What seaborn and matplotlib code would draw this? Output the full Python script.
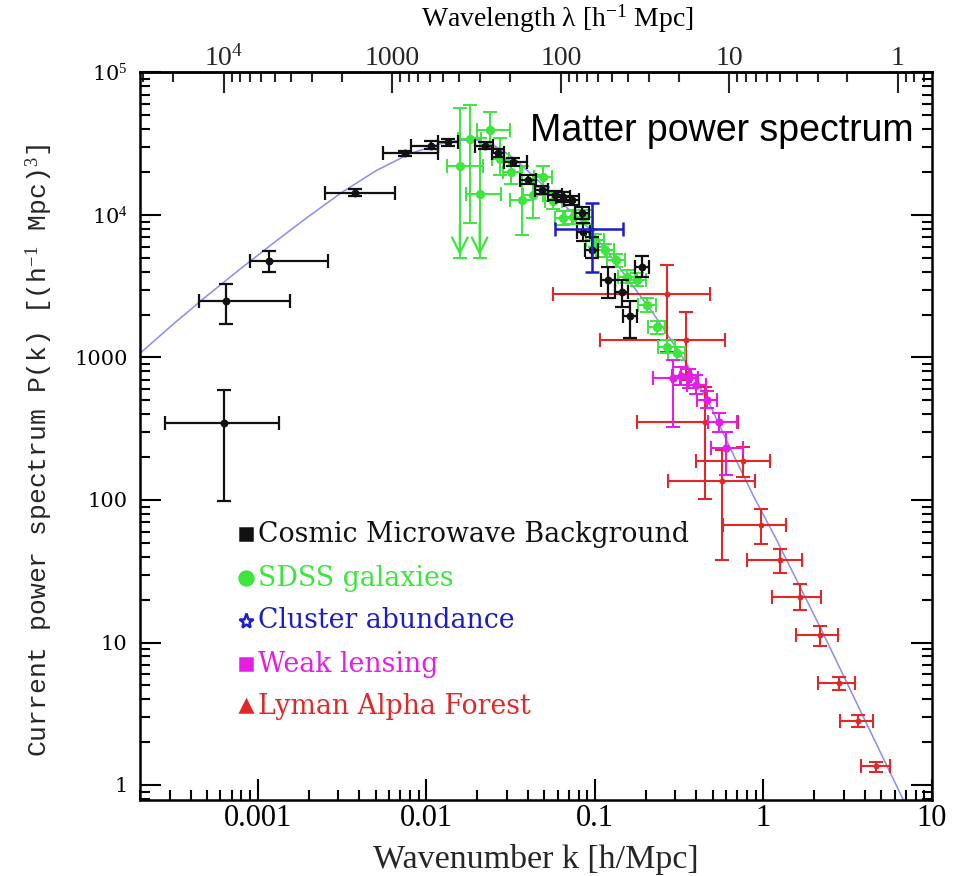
import numpy as np
import pandas as pd
import matplotlib
matplotlib.use("Agg")
import matplotlib.pyplot as plt
from matplotlib.lines import Line2D
import seaborn as sns
from matplotlib.ticker import FixedLocator, FixedFormatter, LogLocator, NullFormatter

# ---------------- data ----------------
theory_k = [2.0e-4, 3.16e-4, 5.01e-4, 7.94e-4, 1.26e-3, 2.0e-3, 3.16e-3, 5.01e-3, 7.94e-3,
            0.0126, 0.0158, 0.0200, 0.0251, 0.0316, 0.0376, 0.0493, 0.0933, 0.1406,
            0.222, 0.350, 0.471, 0.632, 0.871, 1.197, 2.163, 6.61, 7.0]
theory_P = [1070, 1720, 2720, 4220, 6460, 9770, 14450, 20400, 26900,
            32000, 33500, 33500, 30900, 26000, 21800, 16200, 7940, 4230,
            2040, 910, 490, 234, 107, 52.5, 12.9, 0.83, 0.72]

cmb_k = [6.3e-4, 6.45e-4, 1.16e-3, 3.77e-3, 7.45e-3, 0.0106, 0.0135, 0.0222, 0.0267, 0.0327,
         0.0402, 0.0483, 0.058, 0.0649, 0.0728, 0.0834, 0.0853, 0.0955, 0.120, 0.144, 0.161, 0.189]
cmb_P = [347, 2500, 4770, 14350, 27100, 30500, 32300, 30600, 27100, 23500,
         17600, 15000, 13800, 13400, 12700, 10300, 7640, 5680, 3500, 2890, 1950, 4340]
cmb_klo = [2.8e-4, 4.5e-4, 8.97e-4, 2.5e-3, 5.5e-3, 8.1e-3, 0.0118, 0.0195, 0.0245, 0.029,
           0.036, 0.044, 0.053, 0.059, 0.066, 0.076, 0.078, 0.087, 0.109, 0.131, 0.147, 0.172]
cmb_khi = [1.33e-3, 1.55e-3, 2.6e-3, 6.53e-3, 0.0117, 0.0118, 0.0155, 0.025, 0.029, 0.0398,
           0.045, 0.053, 0.064, 0.071, 0.080, 0.092, 0.094, 0.105, 0.132, 0.158, 0.177, 0.208]
cmb_Plo = [98.5, 1710, 4000, 13600, 26000, 29000, 30500, 29000, 25500, 22000,
           16500, 14000, 12800, 12400, 11800, 9300, 6600, 4970, 2600, 2270, 1370, 3650]
cmb_Phi = [590, 3280, 5620, 15100, 28200, 33000, 34000, 32500, 29000, 25000,
           19000, 16000, 14800, 14400, 13700, 11400, 8800, 7050, 4340, 3500, 2510, 5150]

sdss_k = [0.0158, 0.0181, 0.0207, 0.0240, 0.0275, 0.0320, 0.0367, 0.0427, 0.0493, 0.0566, 0.0649,
          0.0745, 0.0872, 0.100, 0.115, 0.133, 0.154, 0.178, 0.204, 0.232, 0.267, 0.306]
sdss_P = [22100, 34000, 14000, 39500, 24700, 19900, 12700, 13800, 18600, 12500, 9490,
          9730, 9730, 6680, 5680, 4830, 3690, 3500, 2330, 1630, 1190, 1070]
sdss_klo = [0.0132, 0.0155, 0.0173, 0.0199, 0.0245, 0.0285, 0.0315, 0.0375, 0.0435, 0.0505, 0.058,
            0.0665, 0.0775, 0.089, 0.102, 0.118, 0.137, 0.158, 0.181, 0.206, 0.237, 0.272]
sdss_khi = [0.0218, 0.0212, 0.0279, 0.0313, 0.031, 0.036, 0.043, 0.049, 0.056, 0.064, 0.073,
            0.084, 0.098, 0.113, 0.130, 0.150, 0.173, 0.200, 0.229, 0.261, 0.300, 0.344]
sdss_Plo = [4970, 8830, 4970, 29400, 19000, 16500, 7240, 9490, 15800, 11000, 8500,
            8700, 8700, 6000, 5100, 4350, 3320, 3150, 2100, 1470, 1070, 960]
sdss_Phi = [56100, 59200, 34700, 53100, 34500, 24000, 21900, 19000, 21900, 14200, 10600,
            10900, 10900, 7400, 6300, 5350, 4100, 3900, 2600, 1810, 1320, 1190]
sdss_arrow = [True, False, True, False, False, False, False, False, False, False, False,
              False, False, False, False, False, False, False, False, False, False, False]

cl_k = [0.0955]
cl_P = [7940]
cl_klo = [0.058]
cl_khi = [0.146]
cl_Plo = [4000]
cl_Phi = [12100]

wl_k = [0.292, 0.324, 0.363, 0.400, 0.463, 0.546, 0.603]
wl_P = [714, 741, 714, 641, 503, 351, 231]
wl_klo = [0.222, 0.285, 0.320, 0.350, 0.405, 0.470, 0.490]
wl_khi = [0.358, 0.370, 0.410, 0.455, 0.530, 0.700, 0.760]
wl_Plo = [327, 640, 610, 550, 440, 300, 150]
wl_Phi = [960, 860, 830, 750, 580, 410, 300]

ly_k = [0.267, 0.347, 0.45, 0.571, 0.76, 0.966, 1.26, 1.64, 2.16, 2.81, 3.62, 4.68]
ly_P = [2790, 1330, 351, 137, 189, 66.8, 37.9, 20.9, 11.3, 5.18, 2.83, 1.36]
ly_klo = [0.0566, 0.107, 0.178, 0.272, 0.40, 0.575, 0.796, 1.12, 1.55, 2.10, 2.84, 3.80]
ly_khi = [0.481, 0.59, 0.71, 0.89, 1.10, 1.36, 1.70, 2.21, 2.77, 3.49, 4.44, 5.62]
ly_Plo = [1100, 690, 102, 38, 146, 49, 30.9, 16.9, 9.44, 4.64, 2.54, 1.24]
ly_Phi = [4460, 2090, 620, 224, 237, 86, 45.3, 25.6, 13.1, 5.75, 3.10, 1.46]

legend_labels = ["Cosmic Microwave Background", "SDSS galaxies", "Cluster abundance",
                 "Weak lensing", "Lyman Alpha Forest"]

bottom_ticks = [0.001, 0.01, 0.1, 1, 10]
bottom_labels = ["0.001", "0.01", "0.1", "1", "10"]
left_ticks = [1, 10, 100, 1000, 1e4, 1e5]
left_labels = ["1", "10", "100", "1000", r"10$^4$", r"10$^5$"]
top_ticks = [1e4, 1000, 100, 10, 1]
top_labels = [r"10$^4$", "1000", "100", "10", "1"]

# ---------------- style ----------------
sns.set_style("ticks")
plt.rcParams["font.family"] = ["DejaVu Serif"]
plt.rcParams["mathtext.fontset"] = "custom"
plt.rcParams["mathtext.rm"] = "Liberation Serif"
plt.rcParams["mathtext.it"] = "Liberation Serif"

C_BLACK = "#111111"
C_GREEN = "#3de63d"
C_BLUE = "#1c1cc8"
C_MAG = "#e41ee4"
C_RED = "#e02828"
C_LINE = "#8c8cf0"

fig = plt.figure(figsize=(9.64, 8.76), dpi=100)
ax = fig.add_axes([140 / 964, 1 - 800 / 876, 792 / 964, 727.5 / 876])
ax.set_xscale("log")
ax.set_yscale("log")
ax.set_xlim(2.0e-4, 10)
ax.set_ylim(10 ** (-15 / 142.5), 1e5)

# theory curve
sns.lineplot(x=theory_k, y=theory_P, ax=ax, color=C_LINE, linewidth=1.1,
             sort=False, estimator=None, zorder=1)


def draw(k, P, klo, khi, Plo, Phi, color, marker, s, lw=1.6, z=3):
    k = np.asarray(k, float)
    P = np.asarray(P, float)
    xerr = [k - np.asarray(klo), np.asarray(khi) - k]
    yerr = [P - np.asarray(Plo), np.asarray(Phi) - P]
    ax.errorbar(k, P, xerr=xerr, yerr=yerr, fmt="none", ecolor=color,
                elinewidth=lw, capsize=5, capthick=lw, zorder=z)
    sns.scatterplot(x=k, y=P, ax=ax, color=color, marker=marker, s=s,
                    edgecolor=color, linewidth=0, zorder=z + 0.5, legend=False)


draw(ly_k, ly_P, ly_klo, ly_khi, ly_Plo, ly_Phi, C_RED, "o", 18, lw=1.5, z=2)
draw(sdss_k, sdss_P, sdss_klo, sdss_khi, sdss_Plo, sdss_Phi, C_GREEN, "o", 45, lw=1.4, z=3)
for kk, lo, arr in zip(sdss_k, sdss_Plo, sdss_arrow):
    if arr:
        ax.annotate("", xy=(kk, lo), xytext=(kk, lo * 1.8),
                    arrowprops=dict(arrowstyle="->", color=C_GREEN, lw=1.6,
                                    mutation_scale=28), zorder=3)
draw(cmb_k, cmb_P, cmb_klo, cmb_khi, cmb_Plo, cmb_Phi, C_BLACK, "o", 32, lw=1.6, z=4)
draw(cl_k, cl_P, cl_klo, cl_khi, cl_Plo, cl_Phi, C_BLUE, "*", 30, lw=1.8, z=5)
draw(wl_k, wl_P, wl_klo, wl_khi, wl_Plo, wl_Phi, C_MAG, "o", 36, lw=1.5, z=6)

# ---------------- axes / ticks ----------------
for sp in ax.spines.values():
    sp.set_linewidth(1.8)
    sp.set_color("black")

ax.xaxis.set_major_locator(FixedLocator(bottom_ticks))
ax.xaxis.set_major_formatter(FixedFormatter(bottom_labels))
ax.xaxis.set_minor_locator(LogLocator(base=10, subs=np.arange(2, 10), numticks=20))
ax.xaxis.set_minor_formatter(NullFormatter())
ax.yaxis.set_major_locator(FixedLocator(left_ticks))
ax.yaxis.set_major_formatter(FixedFormatter(left_labels))
ax.yaxis.set_minor_locator(LogLocator(base=10, subs=np.arange(2, 10), numticks=20))
ax.yaxis.set_minor_formatter(NullFormatter())

ax.tick_params(which="both", direction="in", top=False, right=True, width=1.5, colors="black")
ax.tick_params(which="major", length=15)
ax.tick_params(which="minor", length=7)
ax.tick_params(axis="x", which="major", pad=3)
ax.tick_params(axis="y", which="major", pad=9)
for lab in ax.get_xticklabels():
    lab.set_fontfamily("Liberation Serif")
    lab.set_fontsize(22)
for lab in ax.get_yticklabels():
    lab.set_fontfamily("DejaVu Serif")
    lab.set_fontsize(15)

ax.set_xlabel("Wavenumber k [h/Mpc]", fontfamily="Liberation Serif", fontsize=24.5, labelpad=8)
ax.set_ylabel("Current power spectrum P(k) [(h$^{-1}$ Mpc)$^3$]",
              fontfamily="Liberation Mono", fontsize=19)
ax.yaxis.set_label_coords(-0.107, 0.481)

twopi = 2 * np.pi
sec = ax.secondary_xaxis("top", functions=(lambda k: twopi / k, lambda l: twopi / l))
sec.xaxis.set_major_locator(FixedLocator(top_ticks))
sec.xaxis.set_major_formatter(FixedFormatter(top_labels))
sec.xaxis.set_minor_locator(LogLocator(base=10, subs=np.arange(2, 10), numticks=20))
sec.xaxis.set_minor_formatter(NullFormatter())
sec.tick_params(which="both", direction="in", width=1.5)
sec.tick_params(which="major", length=15, pad=1)
sec.tick_params(which="minor", length=7)
sec.spines["top"].set_linewidth(1.8)
for lab in sec.get_xticklabels():
    lab.set_fontfamily("Liberation Serif")
    lab.set_fontsize(20)

# top axis title placed as figure text (keeps it clear of the tick labels)
fig.text(557 / 964, 1 - 19 / 876, "Wavelength λ [h$^{-1}$ Mpc]", fontfamily="Liberation Serif",
         fontsize=20, ha="center", va="center", color="black")

# ---------------- annotation + legend ----------------
fig.text(530 / 964, 1 - 131 / 876, "Matter power spectrum", fontfamily="Liberation Sans",
         fontsize=27, ha="left", va="center", color="black")

leg_colors = [C_BLACK, C_GREEN, C_BLUE, C_MAG, C_RED]
leg_markers = ["s", "o", "*", "s", "^"]
leg_sizes = [8, 10, 11, 8, 9]
leg_y = [534, 578, 621, 664, 706]
for lab, c, m, ms, yy in zip(legend_labels, leg_colors, leg_markers, leg_sizes, leg_y):
    yf = 1 - yy / 876
    mfc = "none" if m == "*" else c
    fig.lines.append(Line2D([246 / 964], [yf], transform=fig.transFigure,
                            marker=m, markersize=ms, color=c,
                            markerfacecolor=mfc, markeredgewidth=1.8,
                            linestyle="none"))
    fig.text(258 / 964, yf, lab, fontfamily="DejaVu Serif", fontsize=19.3,
             color=c, ha="left", va="center")

fig.savefig("out.png", dpi=100, facecolor="white")
